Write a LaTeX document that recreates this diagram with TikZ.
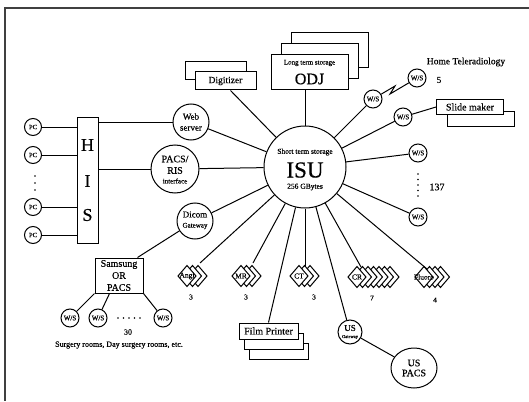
\documentclass[tikz,border=0pt]{standalone}
\usepackage{fontspec}
\setmainfont{Liberation Serif}[FakeBold=0.4]
\usetikzlibrary{shapes.geometric}
\newcommand\fsz[2]{\fontsize{#1}{#2}\selectfont}
\newcommand\modality[5]{%
  \foreach \k in {#3,...,1}{%
    \draw[fill=white] ({#1+\k*5.5},{#2-10.5}) -- ({#1+\k*5.5+9},{#2}) -- ({#1+\k*5.5},{#2+10.5}) -- ({#1+\k*5.5-9},{#2}) -- cycle;}
  \draw[fill=white] ({#1},{#2-10.5}) -- ({#1+9},{#2}) -- ({#1},{#2+10.5}) -- ({#1-9},{#2}) -- cycle;
  \node[txt,font=\fsz{7.5}{8}] (#5) at (#1,#2) {#4};
}
\begin{document}
\begin{tikzpicture}[x=1pt,y=-1pt,line width=1pt,
  txt/.style={inner sep=0pt},
  wsnode/.style={circle,draw,fill=white,minimum size=18pt,inner sep=0pt,font=\fsz{7}{8}},
  pcnode/.style={circle,draw,fill=white,minimum size=17pt,inner sep=0pt,font=\fsz{6.5}{7}},
  boxnode/.style={rectangle,draw,fill=white,inner sep=0pt},
  rnode/.style={circle,draw,fill=white,inner sep=0pt}]
\useasboundingbox (0,0) rectangle (529,401);
\fill[white] (0,0) rectangle (529,401);
\draw[black!75,line width=1.2pt] (529,8) -- (5,8) -- (5,401);

% central store
\node[rnode,minimum size=82pt] (isu) at (305,167) {};
\node[txt,font=\fsz{7.5}{8}] (isua) at (305,152) {Short term storage};
\node[txt,font=\fsz{23}{24}] (isub) at (305,170) {ISU};
\node[txt,font=\fsz{7.5}{8}] (isuc) at (305,187) {256 GBytes};

% ODJ stack
\node[boxnode,minimum width=77pt,minimum height=35pt] (odj3) at (329.5,50.5) {};
\node[boxnode,minimum width=77pt,minimum height=35pt] (odj2) at (319.5,61.5) {};
\node[boxnode,minimum width=77pt,minimum height=35pt] (odj) at (309.5,72.5) {};
\node[txt,font=\fsz{7}{8}] (odja) at (309.5,63) {Long term storage};
\node[txt,font=\fsz{16}{17}] (odjb) at (309.5,79) {ODJ};

% Digitizer
\node[boxnode,minimum width=61pt,minimum height=18pt] (digi2) at (215.5,71) {};
\node[boxnode,minimum width=61pt,minimum height=18pt,font=\fsz{9.5}{10}] (digi) at (225.5,81) {Digitizer};

% HIS and PCs
\node[boxnode,minimum width=21pt,minimum height=126pt] (his) at (87.5,180) {};
\node[txt,font=\fsz{18}{18}] (hisH) at (87.5,145) {H};
\node[txt,font=\fsz{18}{18}] (hisI) at (87.5,181) {I};
\node[txt,font=\fsz{18}{18}] (hisS) at (87.5,215) {S};
\node[pcnode] (pc1) at (33,127) {PC};
\node[pcnode] (pc2) at (33,155) {PC};
\node[pcnode] (pc3) at (33,207) {PC};
\node[pcnode] (pc4) at (33,235) {PC};
\foreach \yy in {176,183,190} \fill (35,\yy) circle (0.9);

% Web server, PACS/RIS, Dicom
\node[rnode,minimum size=36pt,align=center,font=\fsz{9}{11}] (web) at (191,122) {Web\\server};
\node[rnode,minimum size=48pt] (pacs) at (175,169) {};
\node[txt,font=\fsz{10}{10}] (pacsa) at (175,159) {PACS/};
\node[txt,font=\fsz{10}{10}] (pacsb) at (175,170.5) {RIS};
\node[txt,font=\fsz{7}{7}] (pacsc) at (175,181) {interface};
\node[rnode,minimum size=36pt] (dicom) at (195,221) {};
\node[txt,font=\fsz{9}{9}] (dicoma) at (195,214.5) {Dicom};
\node[txt,font=\fsz{7}{7}] (dicomb) at (195,226) {Gateway};

% Samsung
\node[boxnode,minimum width=48pt,minimum height=35pt,align=center,font=\fsz{10}{12}] (sams) at (119,275.5) {Samsung\\OR\\PACS};
\node[wsnode] (sw1) at (70,318) {W/S};
\node[wsnode] (sw2) at (98,318) {W/S};
\node[wsnode] (sw3) at (163,318) {W/S};
\foreach \xx in {118,123.5,129,134.5,140} \fill (\xx,318) circle (0.9);
\node[txt,font=\fsz{8}{8}] (n30) at (128,332) {30};
\node[txt,font=\fsz{8}{8}] (surg) at (119,345) {Surgery rooms, Day surgery rooms, etc.};

% modalities
\modality{187}{276}{2}{Angi}{angi}
\modality{241}{276}{2}{MR}{mr}
\modality{299}{276}{2}{CT}{ct}
\modality{357}{277}{6}{CR}{cr}
\modality{424}{277}{3}{Fluoro}{flu}
\node[txt,font=\fsz{7.5}{8}] (angin) at (191,297) {3};
\node[txt,font=\fsz{7.5}{8}] (mrn) at (246,297) {3};
\node[txt,font=\fsz{7.5}{8}] (ctn) at (314,297) {3};
\node[txt,font=\fsz{7.5}{8}] (crn) at (372,298) {7};
\node[txt,font=\fsz{7.5}{8}] (flun) at (435,300) {4};
\coordinate (angiE) at (200,263);
\coordinate (mrE) at (253,263);
\coordinate (ctE) at (305,266);
\coordinate (crE) at (361,267);
\coordinate (fluE) at (427,269);

% Film printer
\node[boxnode,minimum width=59pt,minimum height=16pt] (film3) at (278.5,351) {};
\node[boxnode,minimum width=59pt,minimum height=16pt] (film2) at (273.5,341) {};
\node[boxnode,minimum width=59pt,minimum height=16pt,font=\fsz{10}{10}] (film) at (268.5,331) {Film Printer};

% US
\node[rnode,minimum size=24pt] (usg) at (350,332) {};
\node[txt,font=\fsz{9}{9}] (usga) at (350,328) {US};
\node[txt,font=\fsz{4.5}{5}] (usgb) at (350,337) {Gateway};
\node[ellipse,draw,fill=white,minimum width=46pt,minimum height=40pt,inner sep=0pt,align=center,font=\fsz{10}{10}] (uspacs) at (414,368) {US\\PACS};

% right side workstations
\node[wsnode] (wsz) at (373,99) {W/S};
\node[wsnode] (wsh) at (417,78) {W/S};
\node[txt,font=\fsz{9}{9}] (n5) at (439,80) {5};
\node[txt,font=\fsz{9.5}{10}] (home) at (466,62) {Home Teleradiology};
\node[wsnode] (wss) at (403,117) {W/S};
\node[boxnode,minimum width=67pt,minimum height=15pt] (slide2) at (481,119) {};
\node[boxnode,minimum width=67pt,minimum height=15pt,font=\fsz{10}{10}] (slide) at (470,107) {Slide maker};
\node[wsnode] (ws1) at (418,153) {W/S};
\node[wsnode] (ws2) at (418,217) {W/S};
\foreach \yy in {174,179.5,185,190.5,196} \fill (418,\yy) circle (0.9);
\node[txt,font=\fsz{10}{10}] (n137) at (437,187) {137};
\coordinate (z1) at (395,86);
\coordinate (z2) at (390,94);

% connectors
\foreach \p in {pc1,pc2,pc3,pc4} \draw (\p) -- (\p -| his.west);
\draw (his.east |- web) -- (web);
\draw (his.east |- pacs) -- (pacs);
\draw (web) -- (isu);
\draw (pacs) -- (isu);
\draw ([xshift=5pt]digi.south) -- (isu);
\draw (isu.north |- odj.south) -- (isu.north);
\draw (dicom) -- (isu);
\draw (dicom) -- ([xshift=-6pt]sams.north east);
\draw (sams.south west) -- (sw1);
\draw ([xshift=15pt]sams.south west) -- (sw2);
\draw (sams.south east) -- (sw3);
\draw (isu) -- (angiE);
\draw (isu) -- (mrE);
\draw (isu) -- (ctE);
\draw (isu) -- (crE);
\draw (isu) -- (fluE);
\draw (isu) -- (film.north);
\draw (isu) -- (usg);
\draw (usg) -- (uspacs);
\draw (isu) -- (ws2);
\draw (isu) -- (ws1);
\draw (isu) -- (wss);
\draw (wss) -- (slide.west);
\draw (isu) -- (wsz);
\draw (wsz) -- (z1) -- (z2) -- (wsh);
\end{tikzpicture}
\end{document}
